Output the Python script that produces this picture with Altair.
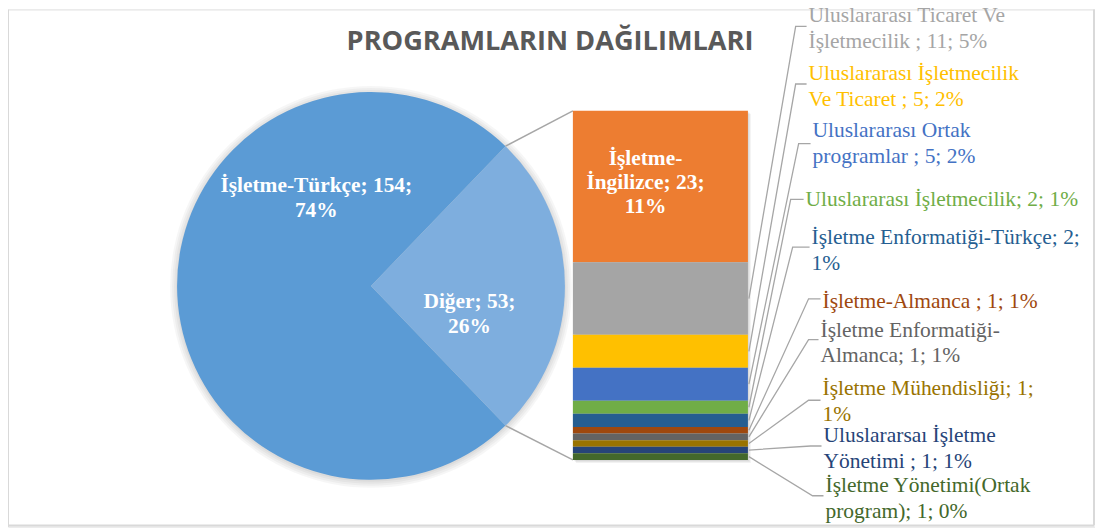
import math
import altair as alt
import pandas as pd

# ---------------- data ----------------
pie_names = ["Diğer", "İşletme-Türkçe"]
pie_values = [53, 154]
pie_labels = ["Diğer; 53;\n26%", "İşletme-Türkçe; 154;\n74%"]
pie_colors = ["#7EAEDE", "#5B9BD5"]

bar_names = [
    "İşletme-İngilizce",
    "Uluslararası Ticaret Ve İşletmecilik",
    "Uluslararası İşletmecilik Ve Ticaret",
    "Uluslararası Ortak programlar",
    "Uluslararası İşletmecilik",
    "İşletme Enformatiği-Türkçe",
    "İşletme-Almanca",
    "İşletme Enformatiği-Almanca",
    "İşletme Mühendisliği",
    "Uluslararsaı İşletme Yönetimi",
    "İşletme Yönetimi(Ortak program)",
]
bar_values = [23, 11, 5, 5, 2, 2, 1, 1, 1, 1, 1]
bar_labels = [
    "İşletme-\nİngilizce; 23;\n11%",
    "Uluslararası Ticaret Ve\nİşletmecilik ; 11; 5%",
    "Uluslararası İşletmecilik\nVe Ticaret ; 5; 2%",
    "Uluslararası Ortak\nprogramlar ; 5; 2%",
    "Uluslararası İşletmecilik; 2; 1%",
    "İşletme Enformatiği-Türkçe; 2;\n1%",
    "İşletme-Almanca ; 1; 1%",
    "İşletme Enformatiği-\nAlmanca; 1; 1%",
    "İşletme Mühendisliği; 1;\n1%",
    "Uluslararsaı İşletme\nYönetimi ; 1; 1%",
    "İşletme Yönetimi(Ortak\nprogram); 1; 0%",
]
bar_colors = ["#ED7D31", "#A5A5A5", "#FFC000", "#4472C4", "#70AD47", "#255E91",
              "#9E480E", "#636363", "#997300", "#264478", "#43682B"]
title_text = "PROGRAMLARIN DAĞILIMLARI"

# ---------------- layout (plot-area pixels) ----------------
W, H = 1093, 520
CX, CY, R = 365, 278, 195
BX0, BX1, BYT, BYB = 568, 744, 102, 453
# label layout for bar items 1..10 (page px): text x, first-line centre y, elbow x, elbow y
lab_tx = [813, 813, 817, 810, 816, 827, 825, 827, 828, 830]
lab_ty = [15, 73, 130, 200, 238, 302, 331, 390, 437, 487]
lab_ex = [800, 800, 803, 795, 797, 813, 813, 813, 815, 817]
lab_ey = [25, 83, 143, 199, 247, 299, 340, 401, 447, 497]
OFF = 8  # page margin

total_pie = sum(pie_values)
total_bar = sum(bar_values)
ppu = (BYB - BYT) / total_bar


def u(page_y):
    """page pixel y -> bar value units (inverse of the y scale)"""
    return (BYB - (page_y - OFF)) / ppu


all_names = pie_names + bar_names
all_colors = pie_colors + bar_colors
color_scale = alt.Scale(domain=all_names, range=all_colors)
yscale = alt.Scale(domain=[0, total_bar], range=[BYB, BYT], nice=False, zero=False)

serif = "Liberation Serif"
grey_line = "#A6A6A6"

one = pd.DataFrame({"k": [0]})

# ---------------- pie ----------------
a0 = math.pi / 2 - math.pi * pie_values[0] / total_pie
pie_df = pd.DataFrame({"name": pie_names, "value": pie_values, "idx": range(len(pie_names))})

shadows = [
    alt.Chart(one).mark_arc(radius=R + k, theta=0, theta2=2 * math.pi, color="black",
                            opacity=0.035, stroke=None)
    .encode(x=alt.value(CX), y=alt.value(CY + 1))
    for k in (1, 3, 5, 7)
]

pie = alt.Chart(pie_df).mark_arc(radius=R, stroke=None).encode(
    theta=alt.Theta("value:Q", stack=True,
                    scale=alt.Scale(domain=[0, total_pie], range=[a0, a0 + 2 * math.pi], nice=False)),
    color=alt.Color("name:N", scale=color_scale, legend=None),
    order=alt.Order("idx:Q"),
    x=alt.value(CX),
    y=alt.value(CY),
)

pie_lab_df = pd.DataFrame({
    "label": pie_labels,
    "x": [472 - OFF, 318 - OFF],
    "y": [u(302), u(186)],
})
pie_text = alt.Chart(pie_lab_df).mark_text(
    font=serif, fontSize=21.5, fontWeight="bold", color="white", align="center",
    baseline="middle", lineBreak="\n", lineHeight=25,
).encode(x=alt.X("x:Q", scale=None), y=alt.Y("y:Q", scale=yscale, axis=None), text="label:N")

# ---------------- connectors pie -> bar ----------------
a1 = a0 + 2 * math.pi * pie_values[0] / total_pie
conn_df = pd.DataFrame({
    "x": [CX + R * math.sin(a0), CX + R * math.sin(a1)],
    "y": [u(CY + OFF - R * math.cos(a0)), u(CY + OFF - R * math.cos(a1))],
    "x2": [BX0, BX0],
    "y2": [total_bar, 0],
})
conn = alt.Chart(conn_df).mark_rule(color=grey_line, strokeWidth=1.5).encode(
    x=alt.X("x:Q", scale=None), x2="x2:Q",
    y=alt.Y("y:Q", scale=yscale, axis=None), y2="y2:Q",
)

# ---------------- bar ----------------
bar_df = pd.DataFrame({"name": bar_names, "value": bar_values, "idx": range(len(bar_names))})
bar_shadow = [
    alt.Chart(one).mark_rect(color="black", opacity=0.05).encode(
        x=alt.value(BX0 + k), x2=alt.value(BX1 + k), y=alt.value(BYT + k), y2=alt.value(BYB + k))
    for k in (1, 2, 3)
]
bar = alt.Chart(bar_df).transform_stack(
    stack="value", groupby=[], as_=["y0", "y1"],
    sort=[alt.SortField("idx", order="descending")],
).mark_rect(stroke=None).encode(
    x=alt.value(BX0), x2=alt.value(BX1),
    y=alt.Y("y0:Q", scale=yscale, axis=None), y2="y1:Q",
    color=alt.Color("name:N", scale=color_scale, legend=None),
)

bar_in_df = pd.DataFrame({"label": [bar_labels[0]], "x": [649 - OFF], "y": [u(158)]})
bar_in_text = alt.Chart(bar_in_df).mark_text(
    font=serif, fontSize=21.5, fontWeight="bold", color="white", align="center",
    baseline="middle", lineBreak="\n", lineHeight=24.5,
).encode(x=alt.X("x:Q", scale=None), y=alt.Y("y:Q", scale=yscale, axis=None), text="label:N")

# ---------------- leader lines + outside labels ----------------
rows = []
top = total_bar - bar_values[0]
for i in range(1, len(bar_names)):
    mid = top - bar_values[i] / 2
    top -= bar_values[i]
    j = i - 1
    rows.append({"name": bar_names[i], "step": 0, "x": BX1 + 1, "y": mid})
    rows.append({"name": bar_names[i], "step": 1, "x": lab_ex[j] - OFF, "y": u(lab_ey[j])})
    rows.append({"name": bar_names[i], "step": 2, "x": lab_tx[j] - OFF - 2, "y": u(lab_ey[j])})
lead_df = pd.DataFrame(rows)
leaders = alt.Chart(lead_df).mark_line(color=grey_line, strokeWidth=1.3).encode(
    x=alt.X("x:Q", scale=None), y=alt.Y("y:Q", scale=yscale, axis=None),
    detail="name:N", order="step:Q",
)

out_df = pd.DataFrame({
    "name": bar_names[1:],
    "label": bar_labels[1:],
    "x": [t - OFF for t in lab_tx],
    "y": [u(t) for t in lab_ty],
})
out_text = alt.Chart(out_df).mark_text(
    font=serif, fontSize=21.6, align="left", baseline="middle", lineBreak="\n", lineHeight=26,
).encode(
    x=alt.X("x:Q", scale=None), y=alt.Y("y:Q", scale=yscale, axis=None), text="label:N",
    color=alt.Color("name:N", scale=color_scale, legend=None),
)

# ---------------- title & frame ----------------
title = alt.Chart(one).mark_text(
    font="Open Sans", fontSize=27.3, fontWeight="bold", color="#595959",
    align="center", baseline="alphabetic",
).encode(x=alt.value(553 - OFF), y=alt.value(49 - OFF), text=alt.value(title_text))

frame = [
    alt.Chart(one).mark_rule(color="#D9D9D9", strokeWidth=2).encode(
        x=alt.value(0), y=alt.value(0), y2=alt.value(H - 1)),
    alt.Chart(one).mark_rule(color="#D9D9D9", strokeWidth=2).encode(
        x=alt.value(W - 1), y=alt.value(0), y2=alt.value(H - 1)),
    alt.Chart(one).mark_rule(color="#D9D9D9", strokeWidth=2).encode(
        x=alt.value(0), x2=alt.value(W - 1), y=alt.value(H - 1)),
]

chart = alt.layer(
    *shadows, pie, pie_text, conn, *bar_shadow, bar, bar_in_text, leaders, out_text, title, *frame
).properties(
    width=W, height=H, padding=0, autosize=alt.AutoSizeParams(type="none"),
).configure_view(stroke=None).configure(background="white")

chart.save("out.html", embed_options={"renderer": "svg", "actions": False})
